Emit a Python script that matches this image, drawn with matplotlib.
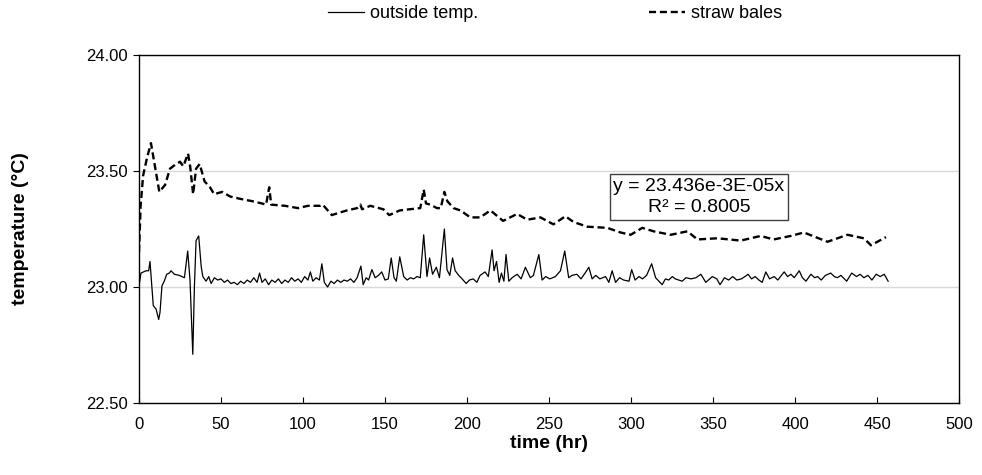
import matplotlib
matplotlib.use("Agg")
import matplotlib.pyplot as plt
from matplotlib.ticker import FormatStrFormatter, MultipleLocator

plt.rcParams['font.family'] = ['Liberation Sans', 'DejaVu Sans']

# straw bales (dashed) - time in hr, temperature in degC
straw_t = [0, 1, 2.5, 5, 7.3, 9, 12.4, 15.9, 18.9, 22.6, 25, 27, 29.9, 31.2, 33,
           34.8, 37, 40, 43.3, 45.8, 50.7, 55.6, 61.7, 69, 75, 77.5, 79.4, 80.6,
           89, 97, 103, 110.5, 112, 117.6, 122, 126.8, 133, 135, 136, 141, 149,
           152.6, 159, 165, 171.5, 173.6, 175, 177.7, 181.7, 184, 186.2, 188,
           191.8, 196, 202, 208, 214.3, 222, 230.6, 236.7, 244.8, 252.7, 260,
           265, 273.3, 285.5, 293.6, 299.8, 306.9, 313.8, 324.2, 334.4, 340.5,
           352.7, 366.9, 379, 387, 397.4, 405.4, 419.8, 432, 442, 446.3, 455.5]
straw_v = [23.15, 23.35, 23.48, 23.56, 23.62, 23.55, 23.41, 23.44, 23.51, 23.53,
           23.54, 23.52, 23.575, 23.52, 23.40, 23.51, 23.53, 23.455, 23.43, 23.40,
           23.41, 23.39, 23.38, 23.37, 23.36, 23.355, 23.43, 23.355, 23.35, 23.34,
           23.35, 23.35, 23.355, 23.31, 23.32, 23.33, 23.34, 23.355, 23.335, 23.35,
           23.335, 23.31, 23.33, 23.335, 23.34, 23.42, 23.36, 23.355, 23.34, 23.34,
           23.41, 23.37, 23.34, 23.33, 23.30, 23.30, 23.33, 23.285, 23.315, 23.29,
           23.30, 23.27, 23.305, 23.28, 23.26, 23.255, 23.235, 23.225, 23.255,
           23.24, 23.225, 23.24, 23.205, 23.21, 23.20, 23.22, 23.205, 23.22,
           23.235, 23.195, 23.225, 23.21, 23.18, 23.215]

# outside temp. (solid)
out_t = [0, 1.2, 4.3, 5.9, 6.7, 7.8, 8.7, 10.4, 12.0, 12.8, 14.0, 15.4, 16.9,
         18.5, 19.5, 21.6, 24.6, 27.7, 29.7, 31.1, 32.8, 33.8, 34.8, 36.4, 37.9,
         38.9, 40.9, 42.5, 44, 46, 48, 50, 52, 54, 56, 58, 60, 62, 64, 66, 68,
         70, 72, 73.5, 75, 77, 79, 81, 83, 85, 87, 89, 91, 93, 95, 97, 99, 101,
         103, 104.5, 106, 108, 110, 111.5, 113, 115, 117, 119, 121, 123, 125,
         127, 129, 131, 133, 135.3, 136.7, 138.5, 140, 142, 144, 146, 148, 150,
         152, 153.8, 155.5, 156.9, 159, 161.4, 163.5, 165.5, 167.5, 169.5, 171.5,
         173.6, 175.6, 177.2, 179, 181.3, 183.2, 186.2, 187.8, 189.5, 191.2,
         192.8, 195, 197, 199.5, 201.5, 203.8, 206, 208, 211, 213, 215.3, 216.5,
         218, 219.6, 221, 222.5, 223.8, 225.5, 227.5, 230.6, 233, 235.6, 238.6,
         240.5, 243.8, 245.8, 248, 250.5, 253.9, 257, 259.6, 262, 264, 267,
         269.5, 272, 274.3, 276.3, 278.5, 281, 284.5, 286.5, 288.5, 290.6, 293,
         295.5, 298.8, 300.4, 302.5, 304.9, 307, 309.5, 312.6, 315, 317, 319,
         321, 323, 325.2, 327, 331.2, 333.5, 336.6, 339.6, 342.6, 345.6, 349.6,
         352.3, 354.3, 357, 359.5, 362, 364.5, 367.3, 369.5, 371.4, 373.5,
         375.7, 378, 380, 382.2, 384.5, 387.3, 389.5, 393.4, 395.5, 397.5,
         399.5, 402.6, 404.5, 406.7, 409.7, 412, 413.8, 416, 418.5, 421.8, 424,
         425.8, 428, 431.5, 434.6, 437.5, 439.7, 442, 444.5, 446.9, 449.5, 452,
         454.4, 456.8]
out_v = [23.005, 23.06, 23.07, 23.07, 23.11, 23.005, 22.92, 22.905, 22.86, 22.89,
         23.005, 23.025, 23.055, 23.06, 23.07, 23.055, 23.05, 23.04, 23.155,
         23.03, 22.71, 23.005, 23.20, 23.22, 23.09, 23.045, 23.025, 23.045,
         23.015, 23.04, 23.03, 23.035, 23.02, 23.03, 23.015, 23.02, 23.01, 23.025,
         23.015, 23.03, 23.02, 23.04, 23.02, 23.06, 23.02, 23.035, 23.01, 23.03,
         23.02, 23.035, 23.015, 23.03, 23.02, 23.04, 23.025, 23.035, 23.02,
         23.045, 23.03, 23.065, 23.025, 23.04, 23.03, 23.10, 23.02, 23.00,
         23.025, 23.015, 23.03, 23.02, 23.03, 23.025, 23.035, 23.02, 23.04,
         23.09, 23.01, 23.04, 23.03, 23.075, 23.04, 23.05, 23.065, 23.03, 23.035,
         23.125, 23.04, 23.025, 23.13, 23.045, 23.03, 23.04, 23.035, 23.045,
         23.04, 23.225, 23.045, 23.125, 23.055, 23.085, 23.04, 23.25, 23.075,
         23.05, 23.125, 23.07, 23.05, 23.035, 23.015, 23.03, 23.035, 23.02,
         23.05, 23.065, 23.045, 23.16, 23.07, 23.11, 23.02, 23.06, 23.025, 23.14,
         23.025, 23.04, 23.055, 23.035, 23.085, 23.04, 23.05, 23.14, 23.03,
         23.045, 23.035, 23.045, 23.07, 23.155, 23.04, 23.05, 23.055, 23.035,
         23.06, 23.085, 23.035, 23.05, 23.035, 23.045, 23.02, 23.07, 23.02,
         23.04, 23.03, 23.025, 23.075, 23.03, 23.045, 23.035, 23.05, 23.10,
         23.04, 23.025, 23.01, 23.035, 23.03, 23.045, 23.035, 23.025, 23.04,
         23.035, 23.04, 23.055, 23.02, 23.045, 23.035, 23.01, 23.04, 23.03,
         23.045, 23.03, 23.035, 23.045, 23.055, 23.035, 23.045, 23.03, 23.02,
         23.065, 23.035, 23.045, 23.03, 23.065, 23.045, 23.055, 23.04, 23.07,
         23.04, 23.025, 23.055, 23.04, 23.045, 23.03, 23.05, 23.06, 23.045,
         23.04, 23.05, 23.025, 23.06, 23.045, 23.055, 23.04, 23.05, 23.03,
         23.055, 23.045, 23.055, 23.025]

trend_text = "y = 23.436e-3E-05x\nR² = 0.8005"

fig = plt.figure(figsize=(9.82, 4.75), dpi=100)
ax = fig.add_axes([139/982, 1 - 403/475, 820/982, 348/475])

l1, = ax.plot(out_t, out_v, color='black', lw=0.9, label='outside temp.')
l2, = ax.plot(straw_t, straw_v, color='black', lw=1.7,
              linestyle=(0, (3, 1.6)), label='straw bales')

ax.set_xlim(0, 500)
ax.set_ylim(22.5, 24.0)
ax.xaxis.set_major_locator(MultipleLocator(50))
ax.yaxis.set_major_locator(MultipleLocator(0.5))
ax.yaxis.set_major_formatter(FormatStrFormatter('%.2f'))
ax.grid(axis='y', color='#d9d9d9', lw=1)
ax.set_axisbelow(True)
ax.tick_params(axis='x', direction='in', length=4, labelsize=12, pad=10)
ax.tick_params(axis='y', direction='out', length=4, labelsize=12, pad=4)
for s in ax.spines.values():
    s.set_color('black')
    s.set_linewidth(1)

ax.set_xlabel('time (hr)', fontsize=14, fontweight='bold', labelpad=2)
ax.set_ylabel('temperature (°C)', fontsize=14, fontweight='bold', labelpad=41)

# trendline equation box
ax.text((699 - 139) / 820, (403 - 197) / 348, trend_text, transform=ax.transAxes,
        ha='center', va='center', fontsize=14, linespacing=1.35,
        bbox=dict(boxstyle='square,pad=0.2', fc='white', ec='#404040', lw=1))

fig.legend(handles=[l1, l2], loc='center', bbox_to_anchor=(555/982, 1 - 14/475),
           ncol=2, frameon=False, fontsize=13, handlelength=2.0,
           columnspacing=9.5, handletextpad=0.3)

fig.savefig('out.png', dpi=100)
